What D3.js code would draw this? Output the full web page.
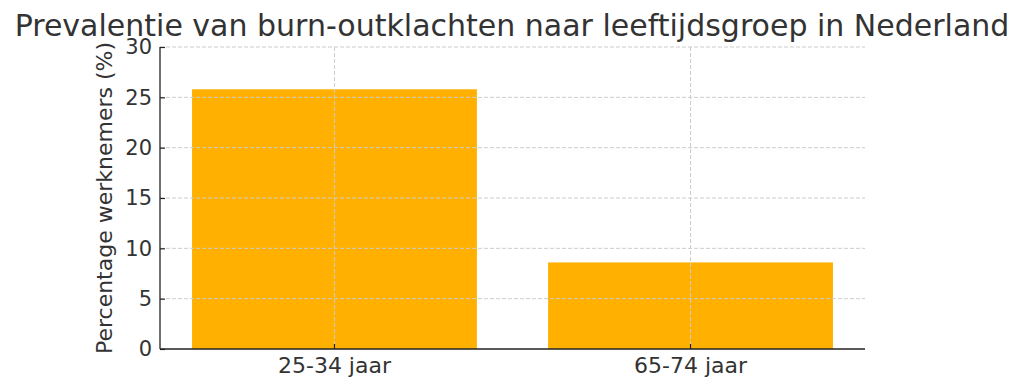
<!DOCTYPE html>
<html>
<head>
<meta charset="utf-8">
<script src="https://cdn.jsdelivr.net/npm/d3@7"></script>
<style>
  body { margin: 0; background: #fff; }
  text { font-family: "DejaVu Sans", sans-serif; fill: #333; }
</style>
</head>
<body>
<svg id="chart" width="1024" height="392"></svg>
<script>
const categories = ["25-34 jaar", "65-74 jaar"];
const values = [25.8, 8.6];
const yTicks = [0, 5, 10, 15, 20, 25, 30];
const title = "Prevalentie van burn-outklachten naar leeftijdsgroep in Nederland";
const yLabel = "Percentage werknemers (%)";

const svg = d3.select("#chart");
const m = { left: 160, right: 865, top: 47, bottom: 349 };

const x = d3.scaleBand().domain(categories).range([m.left, m.right])
  .paddingInner(0.2).paddingOuter(0.09);
const y = d3.scaleLinear().domain([0, 30]).range([m.bottom, m.top]);

// bars
svg.append("g").selectAll("rect").data(values).join("rect")
  .attr("x", (d, i) => x(categories[i]))
  .attr("y", d => y(d))
  .attr("width", x.bandwidth())
  .attr("height", d => y(0) - y(d))
  .attr("fill", "#FFB000");

// grid
const grid = svg.append("g");
grid.selectAll("line.h").data(yTicks.filter(t => t > 0)).join("line")
  .attr("x1", m.left).attr("x2", m.right)
  .attr("y1", d => y(d)).attr("y2", d => y(d))
  .attr("stroke", "#ccc").attr("stroke-width", 1).attr("stroke-dasharray", "4,2");
grid.selectAll("line.v").data(categories).join("line")
  .attr("x1", d => x(d) + x.bandwidth() / 2).attr("x2", d => x(d) + x.bandwidth() / 2)
  .attr("y1", m.top).attr("y2", m.bottom)
  .attr("stroke", "#ccc").attr("stroke-width", 1).attr("stroke-dasharray", "4,2");

// axes (ticks point inward)
const yAxis = svg.append("g").attr("transform", `translate(${m.left},0)`)
  .call(d3.axisLeft(y).tickValues(yTicks).tickSizeInner(-5).tickSizeOuter(0).tickPadding(8));
const xAxis = svg.append("g").attr("transform", `translate(0,${m.bottom})`)
  .call(d3.axisBottom(x).tickSizeInner(-5).tickSizeOuter(0).tickPadding(8));
[yAxis, xAxis].forEach(a => {
  a.select(".domain").attr("stroke", "#222").attr("stroke-width", 1.3);
  a.selectAll(".tick line").attr("stroke", "#222").attr("stroke-width", 1.2);
  a.selectAll(".tick text").attr("fill", "#333").attr("font-family", "DejaVu Sans");
});
yAxis.selectAll(".tick text").attr("font-size", 21);
xAxis.selectAll(".tick text").attr("font-size", 22);
xAxis.select(".domain").attr("d", `M${m.left},0H${m.right}`);
yAxis.select(".domain").attr("d", `M0,${m.bottom}V${m.top}`);

// y label
svg.append("text")
  .attr("transform", `translate(112,${(m.top + m.bottom) / 2}) rotate(-90)`)
  .attr("text-anchor", "middle")
  .attr("font-size", 22)
  .text(yLabel);

// title
svg.append("text")
  .attr("x", 512).attr("y", 36)
  .attr("text-anchor", "middle")
  .attr("font-size", 30)
  .text(title);
</script>
</body>
</html>
